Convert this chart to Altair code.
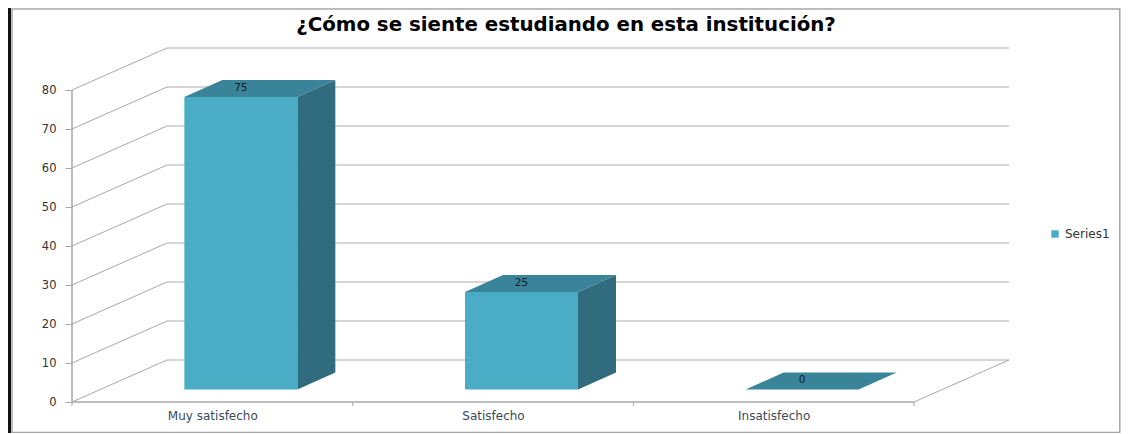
import json
import altair as alt
import pandas as pd

categories = ["Muy satisfecho", "Satisfecho", "Insatisfecho"]
values = [75, 25, 0]
series_name = "Series1"
y_ticks = [0, 10, 20, 30, 40, 50, 60, 70, 80]
category_edges = [0, 1, 2, 3]
title_text = "¿Cómo se siente estudiando en esta institución?"

FRONT, SIDE, TOP = "#4bacc6", "#316b7e", "#3a8499"
BAR_START, BAR_WIDTH = 0.2987, 0.4026
DEPTH_X, DEPTH_Y = 0.3385, 10.77       # full-depth shear, in scale units
BAR_D0, BAR_D1 = 0.3, 0.7              # bar's position along the depth axis
PX_W, PX_H = 938, 355
X_DOMAIN = [0, PX_W / 280.67]
Y_DOMAIN = [0, PX_H / 3.9]

x_scale = alt.Scale(domain=X_DOMAIN, nice=False, zero=False)
y_scale = alt.Scale(domain=Y_DOMAIN, nice=False, zero=False)


def proj(cat, val, depth):
    return cat + depth * DEPTH_X, val + depth * DEPTH_Y


front_rows, side_rows, top_rows, label_rows = [], [], [], []
for i, (c, v) in enumerate(zip(categories, values)):
    l = i + BAR_START
    r = l + BAR_WIDTH
    xl, yb = proj(l, 0, BAR_D0)
    xr, yt = proj(r, v, BAR_D0)
    xrb, ybb = proj(r, 0, BAR_D1)
    _, ytb = proj(r, v, BAR_D1)
    xlb, _ = proj(l, v, BAR_D1)
    front_rows.append(dict(x=xl, x2=xr, y=yb, y2=yt, s=series_name))
    side_rows += [dict(k=c, x=xr, y=yb, y2=yt), dict(k=c, x=xrb, y=ybb, y2=ytb)]
    top_rows += [
        dict(k=c, x=xl, y=yt, y2=yt),
        dict(k=c, x=xlb, y=yt, y2=ytb),
        dict(k=c, x=xr, y=yt, y2=ytb),
        dict(k=c, x=xrb, y=ytb, y2=ytb),
    ]
    label_rows.append(dict(x=(xl + xr) / 2, y=yt, t=str(v)))

back_rows, wall_rows = [], []
for v in y_ticks:
    x0, y0 = proj(0, v, 1)
    x1, _ = proj(3, v, 1)
    back_rows.append(dict(x=x0, x2=x1, y=y0))
    wall_rows += [dict(k=v, x=0, y=v), dict(k=v, x=x0, y=y0)]
fx, fy = proj(3, 0, 1)
wall_rows += [dict(k="floor", x=3, y=0), dict(k="floor", x=fx, y=fy)]

X = lambda f: alt.X(f, type="quantitative", scale=x_scale, title=None)
Y = lambda f: alt.Y(f, type="quantitative", scale=y_scale, title=None)
label_expr = "%s[floor(datum.value)]" % json.dumps(categories, ensure_ascii=False)
one = pd.DataFrame({"a": [0]})

frame_black = alt.Chart(one).mark_rect(filled=False, stroke="#111111", strokeWidth=3).encode(
    x=alt.value(9.5 - 72), x2=alt.value(1126 - 72), y=alt.value(5.5 - 47), y2=alt.value(445 - 47))
frame_gray = alt.Chart(one).mark_rect(filled=False, stroke="#a6a6a6", strokeWidth=1.5).encode(
    x=alt.value(12 - 72), x2=alt.value(1119.8 - 72), y=alt.value(9 - 47), y2=alt.value(432.5 - 47))

back = alt.Chart(pd.DataFrame(back_rows)).mark_rule(color="#c8c8c8", strokeWidth=1.6).encode(
    x=X("x"), x2="x2", y=Y("y"))
wall = alt.Chart(pd.DataFrame(wall_rows)).mark_line(color="#a8a8a8", strokeWidth=1).encode(
    x=X("x"), y=Y("y"), detail="k:N")
y_axis_line = alt.Chart(pd.DataFrame({"x": [0], "y": [min(y_ticks)], "y2": [max(y_ticks)]})).mark_rule(
    color="#a8a8a8", strokeWidth=1.5).encode(x=X("x"), y=Y("y"), y2="y2")
floor_line = alt.Chart(pd.DataFrame({"x": [0], "x2": [3], "y": [0]})).mark_rule(
    color="#a8a8a8", strokeWidth=1.5).encode(x=X("x"), x2="x2", y=Y("y"))
x_ticks = alt.Chart(pd.DataFrame({"x": category_edges, "y": [0] * 4, "y2": [-1.0] * 4})).mark_rule(
    color="#a8a8a8", strokeWidth=1).encode(x=X("x"), y=Y("y"), y2="y2")

axes = alt.Chart(pd.DataFrame({"x": [0.5], "y": [0]})).mark_point(opacity=0).encode(
    x=alt.X("x:Q", scale=x_scale, title=None, axis=alt.Axis(
        values=[0.5, 1.5, 2.5], labelExpr=label_expr, ticks=False, domain=False, grid=False,
        labelFontSize=12, labelColor="#3b4a5a", labelFont="DejaVu Sans",
        labelPadding=8, labelOverlap=False, labelFlush=False)),
    y=alt.Y("y:Q", scale=y_scale, title=None, axis=alt.Axis(
        values=y_ticks, domain=False, grid=False, tickSize=7, tickColor="#a8a8a8",
        labelFontSize=11.5, labelColor="#333333", labelFont="DejaVu Sans", labelPadding=9)),
)

side = alt.Chart(pd.DataFrame(side_rows)).mark_area(color=SIDE, interpolate="linear").encode(
    x=X("x"), y=Y("y"), y2="y2", detail="k:N")
top = alt.Chart(pd.DataFrame(top_rows)).mark_area(color=TOP, interpolate="linear").encode(
    x=X("x"), y=Y("y"), y2="y2", detail="k:N")
front = alt.Chart(pd.DataFrame(front_rows)).mark_rect().encode(
    x=X("x"), x2="x2", y=Y("y"), y2="y2",
    color=alt.Color("s:N", scale=alt.Scale(domain=[series_name], range=[FRONT]), legend=alt.Legend(
        title=None, orient="none", legendX=977, legendY=181, symbolType="square", symbolSize=55,
        labelFontSize=12, labelFont="DejaVu Sans", labelColor="#333333", symbolStrokeWidth=0)),
)
labels = alt.Chart(pd.DataFrame(label_rows)).mark_text(
    dy=-9, fontSize=10.5, font="DejaVu Sans", color="#10202a").encode(x=X("x"), y=Y("y"), text="t:N")

chart = alt.layer(
    axes, frame_black, frame_gray, back, wall, y_axis_line, floor_line, x_ticks, side, top, front, labels
).properties(
    width=PX_W, height=PX_H,
    title=alt.TitleParams(title_text, font="DejaVu Sans", fontSize=19.8, fontWeight="bold", color="#000000",
                          anchor="middle", dx=25, offset=-31),
    padding={"left": 64, "top": 39, "right": 1121 - 1010, "bottom": 31},
    autosize=alt.AutoSizeParams(type="none"),
    background="white",
).configure_view(stroke=None)

chart.save("out.html", embed_options={"renderer": "svg", "actions": False})
